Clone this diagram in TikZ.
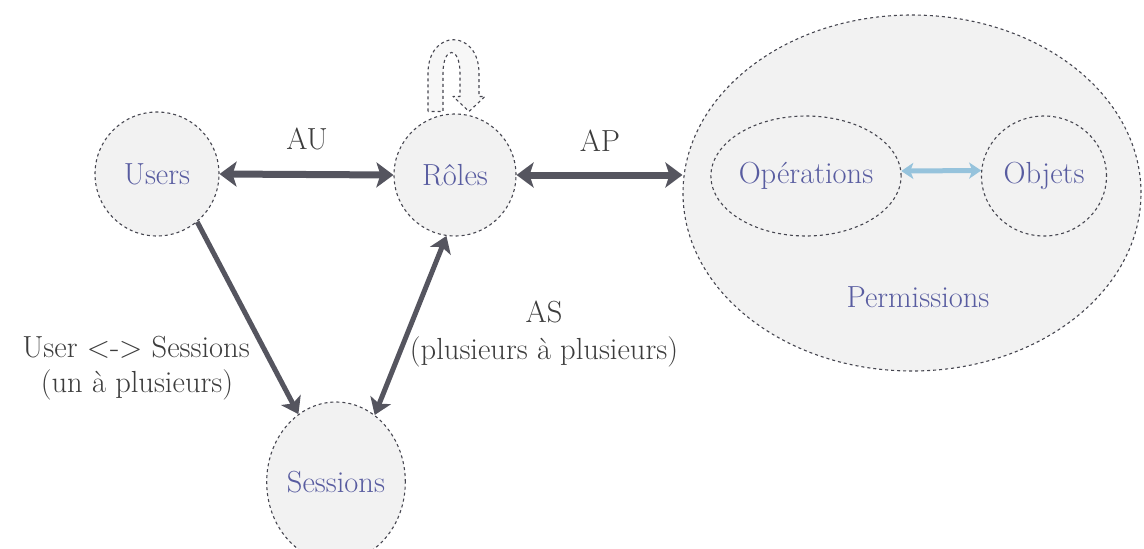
\documentclass[tikz,border=0pt]{standalone}
\usepackage{fontspec}
\usetikzlibrary{arrows.meta,shapes.geometric,calc}

\definecolor{nodefill}{RGB}{242,242,242}
\definecolor{nodeline}{RGB}{70,70,80}
\definecolor{nodetext}{RGB}{88,92,160}
\definecolor{labeltext}{RGB}{60,60,60}
\definecolor{arrowgray}{RGB}{85,85,95}
\definecolor{lightblue}{RGB}{150,195,220}

\tikzset{
  entity/.style={ellipse, draw=nodeline, fill=nodefill, line width=1.1pt,
    dash pattern=on 3pt off 3pt, text=nodetext, font=\fontsize{30.5}{35}\selectfont,
    inner sep=0pt},
  lbl/.style={text=labeltext, font=\fontsize{30.5}{35}\selectfont, align=center},
  relation/.style={draw=arrowgray, line width=7pt,
    {Stealth[length=17pt,width=25pt,inset=4pt]}-{Stealth[length=17pt,width=25pt,inset=4pt]}},
  oneway/.style={draw=arrowgray, line width=5pt,
    -{Stealth[length=16pt,width=22pt,inset=4pt]}},
  twoway/.style={draw=arrowgray, line width=5pt,
    {Stealth[length=16pt,width=22pt,inset=4pt]}-{Stealth[length=16pt,width=22pt,inset=4pt]}},
  paleline/.style={draw=lightblue, line width=5pt,
    {Stealth[length=12pt,width=16pt,inset=3pt]}-{Stealth[length=12pt,width=16pt,inset=3pt]}},
  loopshape/.style={draw=nodeline, fill=nodefill!60!white, line width=1.1pt,
    dash pattern=on 3pt off 3pt, line join=round}
}

\begin{document}
\begin{tikzpicture}[x=1pt,y=-1pt]
  \useasboundingbox (0,0) rectangle (1144,549);

  % permission set with its two parts
  \node[entity, minimum width=458pt, minimum height=356pt] (perm) at (912,193) {};
  \node[lbl, text=nodetext] (permlbl) at (918,297) {Permissions};
  \node[entity, minimum width=168pt, minimum height=120pt] (ops) at (806,176) {Opérations};
  \node[entity, minimum width=125pt, minimum height=120pt] (obj) at (1044,176) {Objets};

  % main entities
  \node[entity, minimum width=124pt, minimum height=124pt] (users) at (157,174) {Users};
  \node[entity, minimum width=122pt, minimum height=122pt] (roles) at (455,175) {Rôles};
  \node[entity, minimum width=134pt, minimum height=160pt] (sessions) at (336,482) {Sessions};

  % role hierarchy: curved arrow on top of the roles
  \draw[loopshape, shift={(roles.north)}]
    (-27,-2) -- (-27,-40) .. controls (-27,-85) and (24,-85) .. (24,-40)
    -- (24,-17) -- (30,-17) -- (14,-2) -- (-2,-17) -- (5,-17) -- (5,-40)
    .. controls (5,-68) and (-12,-68) .. (-12,-40) -- (-12,-2) -- cycle;

  % relations
  \draw[relation] (users.east) -- (roles.west);
  \draw[relation] (roles.east) -- (perm.west |- roles.east);
  \draw[paleline] (ops.3.5) -- (obj.175.5);
  \draw[oneway] (users.-50) -- (sessions.119);
  \draw[twoway] (roles.-98) -- (sessions.60);

  % relation labels
  \node[lbl] (au) at (307,139) {AU};
  \node[lbl] (ap) at (600,141) {AP};
  \node[lbl] (us1) at (136,347) {User <-> Sessions};
  \node[lbl] (us2) at (137,385) {(un à plusieurs)};
  \node[lbl] (as1) at (544,312) {AS};
  \node[lbl] (as2) at (544,352) {(plusieurs à plusieurs)};
\end{tikzpicture}
\end{document}
